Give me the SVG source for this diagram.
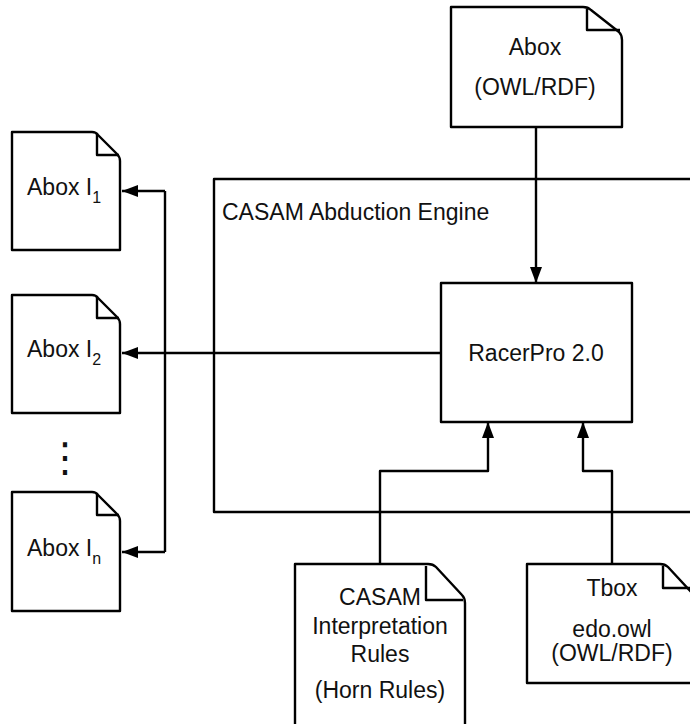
<svg xmlns="http://www.w3.org/2000/svg" width="690" height="724" viewBox="0 0 690 724">
<defs>
<style>
.s{fill:none;stroke:#000;stroke-width:2.4;stroke-linejoin:round}
.d{fill:#fff;stroke:#000;stroke-width:2.4;stroke-linejoin:round}
.t{font-family:"Liberation Sans",Arial,Helvetica,sans-serif;font-size:23px;fill:#111}
.c{text-anchor:middle}
.sub{font-size:16px}
</style>
<marker id="ah" markerWidth="16" markerHeight="12" refX="16" refY="6" orient="auto" markerUnits="userSpaceOnUse">
<path d="M0,0 L16,6 L0,12 Z" fill="#000"/>
</marker>
</defs>
<rect width="690" height="724" fill="#fff"/>

<g id="engine">
<rect class="s" x="214" y="179" width="490" height="333"/>
<text class="t" x="222" y="220">CASAM Abduction Engine</text>
</g>

<g id="connectors">
<line class="s" x1="536" y1="127" x2="536" y2="283" marker-end="url(#ah)"/>
<polyline class="s" points="380,564 380,471 488,471 488,422" marker-end="url(#ah)"/>
<polyline class="s" points="612,564 612,471 583,471 583,422" marker-end="url(#ah)"/>
<line class="s" x1="441" y1="353" x2="122" y2="353" marker-end="url(#ah)"/>
<polyline class="s" points="165,191 165,552"/>
<line class="s" x1="165" y1="191" x2="122" y2="191" marker-end="url(#ah)"/>
<line class="s" x1="165" y1="552" x2="122" y2="552" marker-end="url(#ah)"/>
</g>

<g id="racerpro">
<rect class="d" x="441" y="283" width="191" height="139"/>
<text class="t c" x="536" y="361">RacerPro 2.0</text>
</g>

<g id="abox">
<path class="d" d="M451,7 H583 Q588,7 591,10 L619,32 Q622,35 622,40 V127 H451 Z"/>
<path class="s" d="M587,9 V30 H620"/>
<text class="t c" x="535" y="55">Abox</text>
<text class="t c" x="535" y="95">(OWL/RDF)</text>
</g>

<g id="abox1">
<path class="d" d="M12,132 H92 Q96,132 98,135 L117,154 Q120,157 120,161 V250 H12 Z"/>
<path class="s" d="M97,134 V155 H119"/>
<text class="t" x="27" y="195">Abox I<tspan class="sub" dy="8">1</tspan></text>
</g>

<g id="abox2">
<path class="d" d="M12,295 H92 Q96,295 98,298 L117,317 Q120,320 120,324 V413 H12 Z"/>
<path class="s" d="M97,297 V318 H119"/>
<text class="t" x="27" y="357">Abox I<tspan class="sub" dy="8">2</tspan></text>
</g>

<text x="65" y="471" text-anchor="middle" font-family="DejaVu Sans, sans-serif" font-size="40" fill="#111">⋮</text>

<g id="aboxn">
<path class="d" d="M12,492 H92 Q96,492 98,495 L117,514 Q120,517 120,521 V611 H12 Z"/>
<path class="s" d="M97,494 V515 H119"/>
<text class="t" x="27" y="556">Abox I<tspan class="sub" dy="8">n</tspan></text>
</g>

<g id="rules">
<path class="d" d="M295,564 H428 Q433,564 436,567 L462,595 Q465,598 465,603 V740 H295 Z"/>
<path class="s" d="M426,566 V600 H463"/>
<text class="t c" x="380" y="605">CASAM</text>
<text class="t c" x="380" y="634">Interpretation</text>
<text class="t c" x="380" y="662">Rules</text>
<text class="t c" x="380" y="698">(Horn Rules)</text>
</g>

<g id="tbox">
<path class="d" d="M527,564 H660 Q665,564 668,567 L694,595 Q697,598 697,603 V683 H527 Z"/>
<path class="s" d="M663,566 V588 H695"/>
<text class="t c" x="612" y="596">Tbox</text>
<text class="t c" x="612" y="637">edo.owl</text>
<text class="t c" x="612" y="661">(OWL/RDF)</text>
</g>
</svg>
